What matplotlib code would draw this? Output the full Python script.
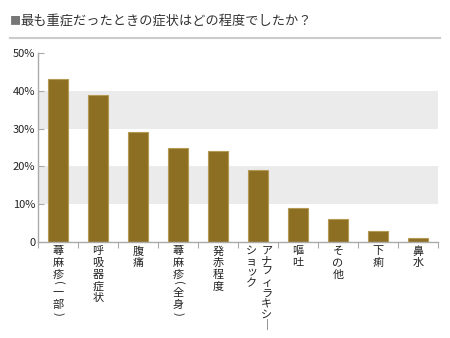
import matplotlib
matplotlib.use("Agg")
import matplotlib.pyplot as plt
from matplotlib.transforms import blended_transform_factory

plt.rcParams['font.family'] = ['Noto Sans CJK JP', 'DejaVu Sans']

title = "最も重症だったときの症状はどの程度でしたか？"
categories = ["蕁麻疹(一部)", "呼吸器症状", "腹痛", "蕁麻疹(全身)", "発赤程度",
              "アナフィラキシ｜ショック", "嘔吐", "その他", "下痢", "鼻水"]
values = [43, 39, 29, 25, 24, 19, 9, 6, 3, 1]
yticks = [0, 10, 20, 30, 40, 50]
ytick_labels = ["0", "10%", "20%", "30%", "40%", "50%"]

W, H = 450, 338
fig = plt.figure(figsize=(W / 100, H / 100), dpi=100)
ax = fig.add_axes([38 / W, 1 - 242 / H, 400 / W, 189 / H])

n = len(categories)
# gray bands
for lo, hi in [(10, 20), (30, 40)]:
    ax.axhspan(lo, hi, color='#ebebeb', zorder=0, lw=0)

ax.bar(range(n), values, width=0.5, color='#8c6f22', edgecolor='#b39a55',
       linewidth=0.8, zorder=2)

ax.set_xlim(-0.5, n - 0.5)
ax.set_ylim(0, 50)
ax.set_yticks(yticks)
ax.set_yticklabels(ytick_labels, fontsize=8, color='#222222')
ax.set_xticks([i - 0.5 for i in range(n + 1)])
ax.set_xticklabels([])
ax.tick_params(axis='x', direction='out', length=4, color='#aaaaaa', width=0.8)
ax.tick_params(axis='y', direction='in', length=4, color='#aaaaaa', width=0.8, pad=2)
for s in ['top', 'right']:
    ax.spines[s].set_visible(False)
for s in ['left', 'bottom']:
    ax.spines[s].set_color('#aaaaaa')
    ax.spines[s].set_linewidth(1.0)

tr = blended_transform_factory(ax.transData, ax.transAxes)


def vertical(x, text, pitch=11.8, start=4):
    off = start
    for ch in text:
        paren = ch in "()"
        ax.annotate(ch, xy=(x, 0), xycoords=tr, xytext=(0, -off),
                    textcoords='offset pixels', ha='center', va='top',
                    rotation=-90 if paren else 0,
                    fontsize=8, color='#222222', annotation_clip=False)
        off += 6.5 if paren else pitch


for i, lab in enumerate(categories):
    if lab.startswith("アナフィラキシ"):
        vertical(i + 0.22, "アナフィラキシ｜", pitch=10.6)
        vertical(i - 0.17, "ショック", pitch=10.6)
    else:
        vertical(i, lab)

# title
fig.text(10 / W, 1 - 21 / H, "■", fontsize=8, color='#777777', va='center', ha='left')
fig.text(20 / W, 1 - 21 / H, title, fontsize=9.5, color='#333333', va='center', ha='left')
fig.add_artist(plt.Line2D([10 / W, 440 / W], [1 - 37.5 / H, 1 - 37.5 / H],
                          color='#cccccc', lw=1.5, transform=fig.transFigure))

fig.savefig("out.png", dpi=100)
